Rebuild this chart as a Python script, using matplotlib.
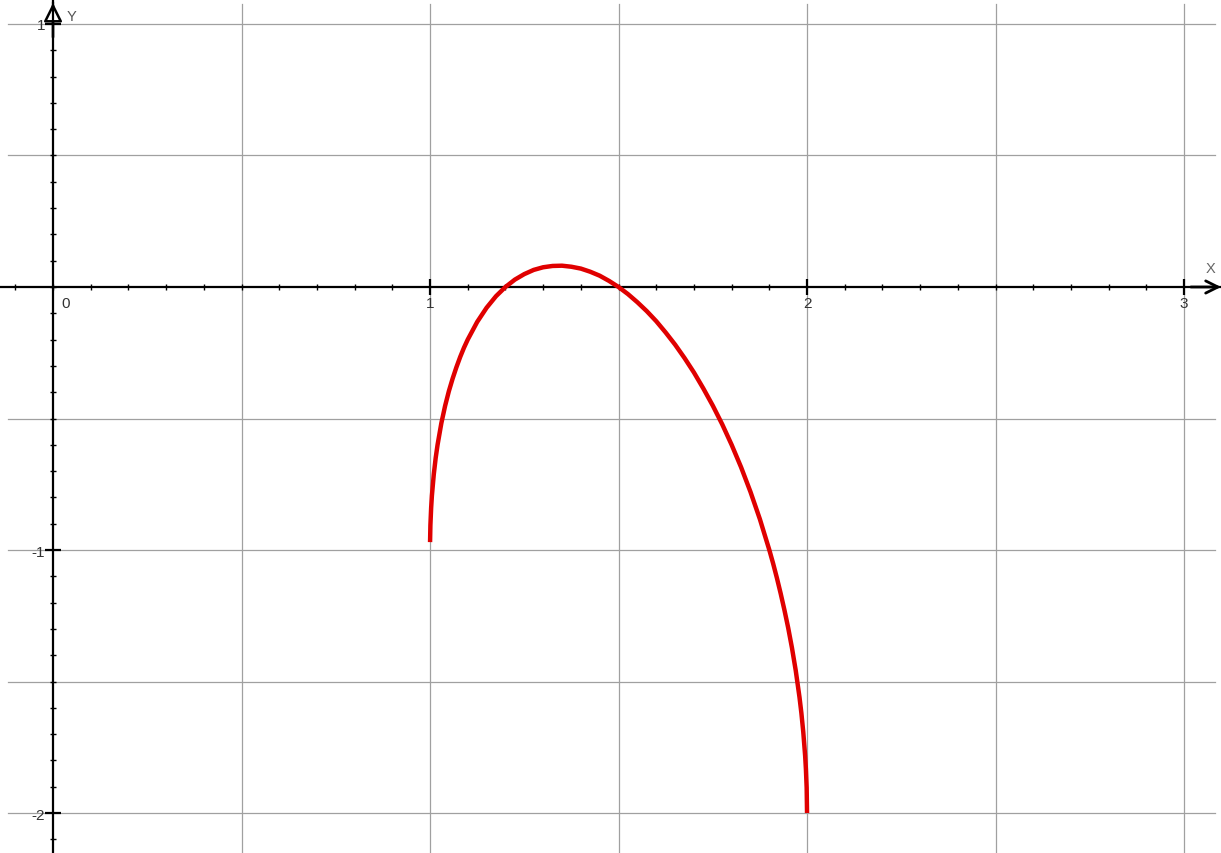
import matplotlib
matplotlib.use("Agg")
import matplotlib.pyplot as plt
from matplotlib.ticker import MultipleLocator, FixedLocator

# Curve points
x_vals = [1.0001, 1.001, 1.003, 1.005, 1.01, 1.015, 1.02, 1.03, 1.04, 1.05,
          1.06, 1.07, 1.08, 1.09, 1.10, 1.125, 1.15, 1.175, 1.20, 1.225, 1.25,
          1.275, 1.30, 1.325, 1.35, 1.375, 1.40, 1.425, 1.45, 1.475, 1.50,
          1.525, 1.55, 1.575, 1.60, 1.625, 1.65, 1.675, 1.70, 1.725, 1.75,
          1.775, 1.80, 1.825, 1.85, 1.875, 1.90, 1.91, 1.92, 1.93, 1.94, 1.95,
          1.96, 1.97, 1.98, 1.985, 1.99, 1.995, 1.997, 1.999, 2.0]
y_vals = [-0.97, -0.906, -0.839, -0.793, -0.712, -0.650, -0.60, -0.518, -0.452,
          -0.396, -0.348, -0.305, -0.266, -0.231, -0.20, -0.133, -0.079, -0.035,
          0.0, 0.028, 0.049, 0.065, 0.075, 0.080, 0.081, 0.077, 0.070, 0.058,
          0.043, 0.023, 0.0, -0.027, -0.058, -0.092, -0.130, -0.173, -0.219,
          -0.270, -0.325, -0.386, -0.451, -0.522, -0.60, -0.685, -0.779, -0.883,
          -1.0, -1.051, -1.106, -1.165, -1.228, -1.296, -1.372, -1.458, -1.56,
          -1.620, -1.692, -1.783, -1.833, -1.904, -2.0]

x_tick_labels = [1, 2, 3]
y_tick_labels = [-2, -1, 1]
grid_x = [0.5, 1.0, 1.5, 2.0, 2.5, 3.0]
grid_y = [-2.0, -1.5, -1.0, -0.5, 0.5, 1.0]

XMIN, XMAX = -0.1406, 3.098
YMIN, YMAX = -2.152, 1.095

plt.rcParams['font.family'] = ['Liberation Sans', 'DejaVu Sans']
plt.rcParams['axes.unicode_minus'] = False

fig = plt.figure(figsize=(12.21, 8.54), dpi=100)
ax = fig.add_axes([0, 0, 1, 1])
ax.set_xlim(XMIN, XMAX)
ax.set_ylim(YMIN, YMAX)

grid_kw = dict(color="#a0a0a0", lw=0.9, zorder=1)
for gx in grid_x:
    ax.axvline(gx, ymin=0.0, ymax=0.994, **grid_kw)
for gy in grid_y:
    ax.axhline(gy, xmin=0.0066, xmax=0.995, **grid_kw)

# axes through origin
for s in ["top", "right"]:
    ax.spines[s].set_visible(False)
ax.spines["left"].set_position(("data", 0))
ax.spines["bottom"].set_position(("data", 0))
ax.spines["left"].set_linewidth(1.6)
ax.spines["bottom"].set_linewidth(1.6)
ax.spines["left"].set_zorder(3)
ax.spines["bottom"].set_zorder(3)

ax.xaxis.set_major_locator(FixedLocator(x_tick_labels))
ax.yaxis.set_major_locator(FixedLocator(y_tick_labels))
ax.xaxis.set_minor_locator(MultipleLocator(0.1))
ax.yaxis.set_minor_locator(MultipleLocator(0.1))
ax.tick_params(which="major", direction="inout", length=11, width=1.6,
               labelsize=11, labelcolor="#333333", pad=1)
ax.tick_params(which="minor", direction="inout", length=5, width=1.0)
ax.tick_params(axis="y", which="major", pad=0)

ax.text(0.022, -0.035, "0", fontsize=11, color="#333333", ha="left", va="top")
ax.text(3.069, 0.045, "X", fontsize=10.5, color="#666666", ha="center", va="bottom")
ax.text(0.035, 1.03, "Y", fontsize=10.5, color="#555555", ha="left", va="center")

# arrows
ax.annotate("", xy=(XMAX, 0), xytext=(XMAX - 0.08, 0),
            arrowprops=dict(arrowstyle="->", lw=2.0, color="black",
                            mutation_scale=22, shrinkA=0, shrinkB=0), zorder=4)
ax.annotate("", xy=(0, 1.08), xytext=(0, 0.95),
            arrowprops=dict(arrowstyle="-|>", lw=1.8, color="black", fc="white",
                            mutation_scale=28, shrinkA=0, shrinkB=0), zorder=4)
ax.plot([0, 0], [0.95, 1.08], color="black", lw=1.6, zorder=5)

ax.plot(x_vals, y_vals, color="#e00000", lw=3.2, solid_capstyle="butt",
        solid_joinstyle="round", zorder=6)

fig.savefig("out.png", dpi=100)
